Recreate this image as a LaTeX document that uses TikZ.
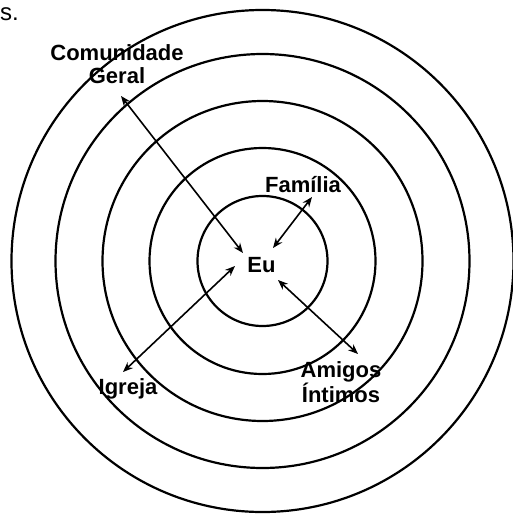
\documentclass[tikz,border=0pt]{standalone}
\usepackage{fontspec}
\setmainfont{Liberation Sans}
\usetikzlibrary{arrows.meta}
\begin{document}
\begin{tikzpicture}[x=1pt,y=-1pt,
  ring/.style={draw=black,line width=2.2pt},
  lbl/.style={font=\fontsize{22}{23.5}\selectfont\bfseries,inner sep=0pt,align=center},
  link/.style={line width=1.6pt,{Stealth[length=10pt,width=8pt]}-{Stealth[length=10pt,width=8pt]}}]
\useasboundingbox (0,0) rectangle (512,516);
\coordinate (c) at (262.5,261);
\foreach \r in {65,113,160,207,251}{\draw[ring] (c) circle[radius=\r];}
\node[font=\fontsize{24}{28}\selectfont,inner sep=0pt,anchor=base west] (frag) at (0,20.5) {s.};
\node[lbl] (cg) at (117,64) {Comunidade\\Geral};
\node[lbl,anchor=base] (fam) at (303,192) {Família};
\node[lbl,anchor=base] (eu) at (261.5,272) {Eu};
\node[lbl,anchor=base] (ig) at (128,394) {Igreja};
\node[lbl] (am) at (341,382.5) {Amigos\\Íntimos};
\coordinate (cgA) at (121,96);  \coordinate (euNW) at (243,253);
\coordinate (famA) at (312,197); \coordinate (euNE) at (273,248);
\coordinate (igA) at (123,372);  \coordinate (euSW) at (235,266);
\coordinate (amA) at (358,354);  \coordinate (euSE) at (278,280);
\draw[link] (cgA) -- (euNW);
\draw[link] (famA) -- (euNE);
\draw[link] (igA) -- (euSW);
\draw[link] (amA) -- (euSE);
\end{tikzpicture}
\end{document}
